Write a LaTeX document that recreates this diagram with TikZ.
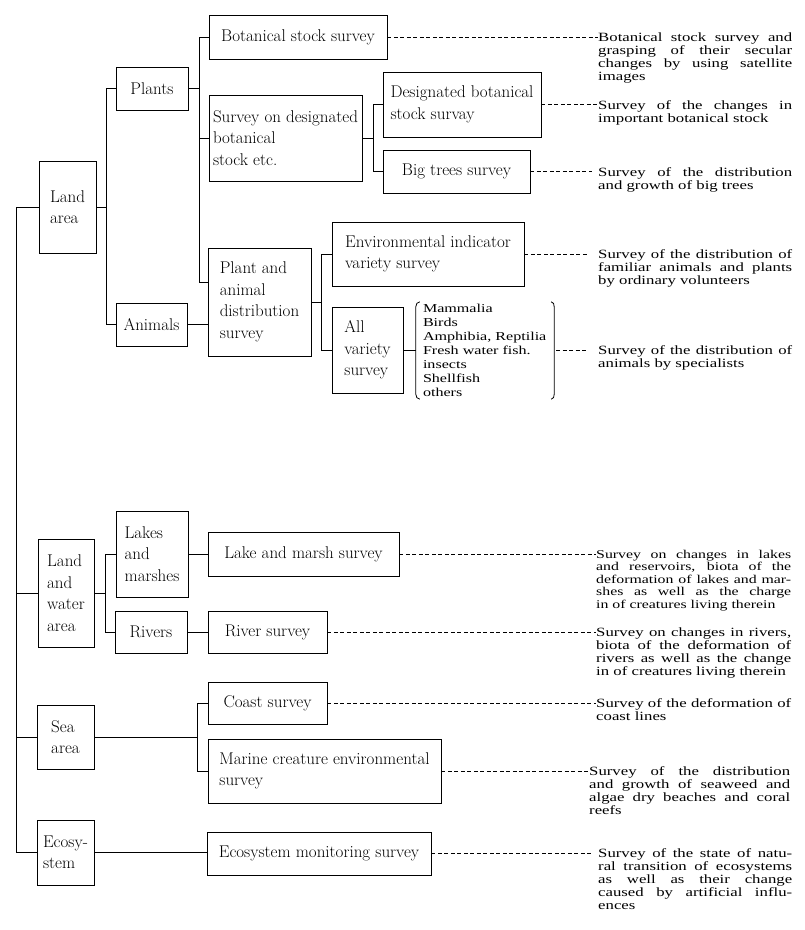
\documentclass[tikz,border=0pt]{standalone}
\usepackage{fontspec}
\newfontfamily\descfont[FakeStretch=1.33]{Liberation Serif}
\usetikzlibrary{calc}

\tikzset{
	box/.style={draw, line width=0.9pt, inner sep=0pt, align=left, font=\fontsize{17}{21.5}\selectfont},
	desc/.style={anchor=base west, inner sep=0pt, text width=194pt, align=justify, font=\descfont\fontsize{12.6}{13}\selectfont},
	link/.style={line width=0.9pt},
	dashlink/.style={line width=0.8pt, dash pattern=on 4pt off 2.5pt},
	brk/.style={line width=0.8pt},
}

\begin{document}
\begin{tikzpicture}[x=1pt,y=-1pt]
	\useasboundingbox (0,0) rectangle (805,930);
	% land area
	\node[box, minimum width=57pt, minimum height=92pt] (land) at (67.5,207) {Land\\area};
	\node[box, minimum width=72pt, minimum height=43pt] (plants) at (152,88.5) {Plants};
	\node[box, minimum width=71pt, minimum height=43pt] (animals) at (151.5,324.5) {Animals};
	\node[box, minimum width=178pt, minimum height=44pt] (bot) at (298,37) {Botanical stock survey};
	\node[box, minimum width=153pt, minimum height=86pt] (desg) at (285.5,138) {Survey on designated\\botanical\\stock etc.};
	\node[box, minimum width=103pt, minimum height=108pt] (pa) at (259.5,302) {Plant and\\animal\\distribution\\survey};
	\node[box, minimum width=158pt, minimum height=65pt] (dbs) at (462,104.5) {Designated botanical\\stock survay};
	\node[box, minimum width=147pt, minimum height=43pt] (big) at (456.5,171.5) {Big trees survey};
	\node[box, minimum width=192pt, minimum height=64pt] (env) at (428,254) {Environmental indicator\\variety survey};
	\node[box, minimum width=71pt, minimum height=86pt] (allv) at (367.5,350) {All\\variety\\survey};
	\node[inner xsep=7pt, inner ysep=0pt, text width=124pt, minimum height=97pt, align=left,
		font=\descfont\fontsize{12.1}{14}\selectfont] (lst) at (485,350.5)
		{Mammalia\\Birds\\Amphibia, Reptilia\\Fresh water fish.\\insects\\Shellfish\\others};
	\draw[brk] ([xshift=4pt]lst.north west) to[out=180,in=90] ([yshift=-5pt]lst.north west)
		-- ([yshift=5pt]lst.south west) to[out=-90,in=180] ([xshift=4pt]lst.south west);
	\draw[brk] ([xshift=-3pt]lst.north east) to[out=0,in=90] ([yshift=-5pt]lst.north east)
		-- ([yshift=5pt]lst.south east) to[out=-90,in=0] ([xshift=-3pt]lst.south east);
	%
	% land and water area, sea area, ecosystem
	\node[box, minimum width=56pt, minimum height=108pt] (lw) at (66,593) {Land\\and\\water\\area};
	\node[box, minimum width=72pt, minimum height=86pt] (lakes) at (152,554) {Lakes\\and\\marshes};
	\node[box, minimum width=72pt, minimum height=42pt] (rivers) at (151,632) {Rivers};
	\node[box, minimum width=191pt, minimum height=44pt] (lake) at (303.5,554) {Lake and marsh survey};
	\node[box, minimum width=119pt, minimum height=42pt] (river) at (267.5,632) {River survey};
	\node[box, minimum width=57pt, minimum height=64pt] (sea) at (65.5,737) {Sea\\area};
	\node[box, minimum width=119pt, minimum height=42pt] (coast) at (267.5,703) {Coast survey};
	\node[box, minimum width=233pt, minimum height=64pt] (marine) at (324.5,771) {Marine creature environmental\\survey};
	\node[box, minimum width=57pt, minimum height=65pt] (eco) at (65.5,852.5) {Ecosy-\\stem};
	\node[box, minimum width=224pt, minimum height=43pt] (mon) at (319,853.5) {Ecosystem monitoring survey};
	%
	% descriptions
	\node[desc] (dbot) at (598,41) {Botanical stock survey and\linebreak grasping of their secular\linebreak changes by using satellite\linebreak images};
	\node[desc] (ddbs) at (598,109) {Survey of the changes in\linebreak important botanical stock};
	\node[desc] (dbig) at (598,176) {Survey of the distribution\linebreak and growth of big trees};
	\node[desc] (denv) at (598,258) {Survey of the distribution of\linebreak familiar animals and plants\linebreak by ordinary volunteers};
	\node[desc] (dlst) at (598,354.5) {Survey of the distribution of\linebreak animals by specialists};
	\node[desc, text width=195pt, font=\descfont\fontsize{11.9}{12.6}\selectfont] (dlake) at (596,558) {Survey on changes in lakes\linebreak and reservoirs, biota of the\linebreak deformation of lakes and mar-\linebreak shes as well as the charge\linebreak in of creatures living therein};
	\node[desc, text width=195pt] (driver) at (596,636) {Survey on changes in rivers,\linebreak biota of the deformation of\linebreak rivers as well as the change\linebreak in of creatures living therein};
	\node[desc, text width=195pt] (dcoast) at (596,707) {Survey of the deformation of\linebreak coast lines};
	\node[desc, text width=201pt] (dmarine) at (589,775) {Survey of the distribution\linebreak and growth of seaweed and\linebreak algae dry beaches and coral\linebreak reefs};
	\node[desc] (dmon) at (598,857.5) {Survey of the state of natu-\linebreak ral transition of ecosystems\linebreak as well as their change\linebreak caused by artificial influ-\linebreak ences};
	%
	% land area tree
	\coordinate (jr) at (16,0);
	\coordinate (jl) at (106,0);
	\coordinate (jp) at (199,0);
	\coordinate (jd) at (373,0);
	\coordinate (ja) at (321,0);
	\draw[link] (land.west) -- (land.west -| jr) -- (eco.west -| jr) -- (eco.west);
	\draw[link] (land.east) -- (land.east -| jl);
	\draw[link] (plants.west) -- (plants.west -| jl) -- (animals.west -| jl) -- (animals.west);
	\draw[link] (plants.east) -- (plants.east -| jp);
	\draw[link] (bot.west) -- (bot.west -| jp) -- ([yshift=20pt]pa.west -| jp) -- ([yshift=20pt]pa.west);
	\draw[link] (desg.west) -- (desg.west -| jp);
	\draw[link] (animals.east) -- (animals.east -| pa.west);
	\draw[link] (desg.east) -- (desg.east -| jd);
	\draw[link] (dbs.west) -- (dbs.west -| jd) -- (big.west -| jd) -- (big.west);
	\draw[link] (pa.east) -- (pa.east -| ja);
	\draw[link] (env.west) -- (env.west -| ja) -- (allv.west -| ja) -- (allv.west);
	\draw[link] (allv.east) -- (allv.east -| lst.west);
	%
	% lower trees
	\coordinate (jw) at (105,0);
	\coordinate (js) at (197,0);
	\draw[link] (lw.west) -- (lw.west -| jr);
	\draw[link] (sea.west) -- (sea.west -| jr);
	\draw[link] (lw.east) -- (lw.east -| jw);
	\draw[link] (lakes.west) -- (lakes.west -| jw) -- (rivers.west -| jw) -- (rivers.west);
	\draw[link] (lakes.east) -- (lakes.east -| lake.west);
	\draw[link] (rivers.east) -- (rivers.east -| river.west);
	\draw[link] (sea.east) -- (sea.east -| js);
	\draw[link] (coast.west) -- (coast.west -| js) -- (marine.west -| js) -- (marine.west);
	\draw[link] (eco.east) -- (eco.east -| mon.west);
	%
	% dashed leaders
	\draw[dashlink] (bot.east) -- (bot.east -| dbot.west);
	\draw[dashlink] (dbs.east) -- (dbs.east -| ddbs.west);
	\draw[dashlink] (big.east) -- ([xshift=-6pt]big.east -| dbig.west);
	\draw[dashlink] (env.east) -- ([xshift=-10pt]env.east -| denv.west);
	\draw[dashlink] ([xshift=2pt]lst.east) -- ([xshift=-10pt]lst.east -| dlst.west);
	\draw[dashlink] (lake.east) -- (lake.east -| dlake.west);
	\draw[dashlink] (river.east) -- (river.east -| driver.west);
	\draw[dashlink] (coast.east) -- (coast.east -| dcoast.west);
	\draw[dashlink] (marine.east) -- (marine.east -| dmarine.west);
	\draw[dashlink] (mon.east) -- ([xshift=-6pt]mon.east -| dmon.west);
\end{tikzpicture}
\end{document}
